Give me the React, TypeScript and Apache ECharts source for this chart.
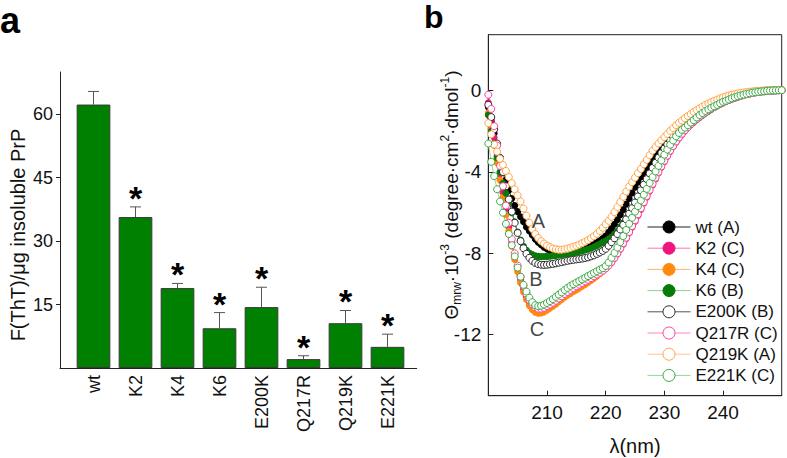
import React, { useEffect, useRef } from "react";
import * as echarts from "echarts";

const FONT = "'Liberation Sans', Arial, Helvetica, sans-serif";

// ---------- Panel a data ----------
const categories = ["wt", "K2", "K4", "K6", "E200K", "Q217R", "Q219K", "E221K"];
const thtMeans = [62.3, 35.7, 18.9, 9.4, 14.4, 2.1, 10.6, 5.0];
const thtErrors = [3.1, 2.4, 1.1, 3.7, 4.7, 0.8, 3.0, 3.0];
const significant = [0, 1, 1, 1, 1, 1, 1, 1];
const yTicksA = [15, 30, 45, 60];

// ---------- Panel b data ----------
const wavelengths = [
  200, 200.5, 201, 201.5, 202, 202.5, 203, 203.5, 204, 204.5,
  205, 205.5, 206, 206.5, 207, 207.5, 208, 208.5, 209, 209.5,
  210, 210.5, 211, 211.5, 212, 212.5, 213, 213.5, 214, 214.5,
  215, 215.5, 216, 216.5, 217, 217.5, 218, 218.5, 219, 219.5,
  220, 220.5, 221, 221.5, 222, 222.5, 223, 223.5, 224, 224.5,
  225, 225.5, 226, 226.5, 227, 227.5, 228, 228.5, 229, 229.5,
  230, 230.5, 231, 231.5, 232, 232.5, 233, 233.5, 234, 234.5,
  235, 235.5, 236, 236.5, 237, 237.5, 238, 238.5, 239, 239.5,
  240, 240.5, 241, 241.5, 242, 242.5, 243, 243.5, 244, 244.5,
  245, 245.5, 246, 246.5, 247, 247.5, 248, 248.5, 249, 249.5,
  250,
];

const wtCD = [
  -0.8, -1.5, -2.1, -2.7, -3.3, -3.85, -4.4, -4.9, -5.3, -5.65,
  -5.95, -6.2, -6.45, -6.7, -6.9, -7.1, -7.3, -7.45, -7.58, -7.7,
  -7.78, -7.85, -7.9, -7.92, -7.94, -7.94, -7.93, -7.91, -7.88, -7.85,
  -7.82, -7.78, -7.74, -7.7, -7.65, -7.6, -7.54, -7.46, -7.38, -7.27,
  -7.15, -6.97, -6.78, -6.57, -6.35, -6.1, -5.85, -5.58, -5.3, -5.03,
  -4.75, -4.5, -4.25, -4.02, -3.8, -3.6, -3.4, -3.19, -2.98, -2.79,
  -2.6, -2.43, -2.27, -2.11, -1.96, -1.83, -1.7, -1.58, -1.46, -1.35,
  -1.24, -1.14, -1.04, -0.95, -0.86, -0.78, -0.7, -0.63, -0.56, -0.5,
  -0.44, -0.39, -0.34, -0.29, -0.25, -0.21, -0.18, -0.15, -0.12, -0.09,
  -0.07, -0.05, -0.04, -0.02, -0.01, 0, 0.01, 0.01, 0.02, 0.02,
  0.02,
];

const k2CD = [
  -0.6, -1.4, -2.3, -3.2, -4.1, -5.0, -5.9, -6.7, -7.45, -8.15,
  -8.75, -9.3, -9.75, -10.12, -10.42, -10.62, -10.75, -10.8, -10.8, -10.76,
  -10.7, -10.62, -10.53, -10.43, -10.32, -10.21, -10.1, -10.0, -9.9, -9.8,
  -9.7, -9.61, -9.52, -9.43, -9.34, -9.25, -9.16, -9.07, -8.97, -8.87,
  -8.76, -8.62, -8.45, -8.25, -8.03, -7.8, -7.55, -7.28, -7.0, -6.72,
  -6.43, -6.14, -5.84, -5.54, -5.24, -4.94, -4.64, -4.34, -4.05, -3.77,
  -3.5, -3.24, -2.99, -2.76, -2.54, -2.34, -2.15, -1.98, -1.82, -1.67,
  -1.54, -1.41, -1.29, -1.18, -1.08, -0.98, -0.89, -0.81, -0.73, -0.66,
  -0.59, -0.52, -0.46, -0.41, -0.36, -0.31, -0.27, -0.23, -0.19, -0.15,
  -0.12, -0.1, -0.07, -0.05, -0.04, -0.02, -0.01, 0, 0.01, 0.01,
  0.02,
];

const k4CD = [
  -1.1, -1.9, -2.7, -3.55, -4.4, -5.25, -6.1, -6.9, -7.65, -8.3,
  -8.9, -9.45, -9.9, -10.27, -10.57, -10.77, -10.9, -10.95, -10.93, -10.88,
  -10.8, -10.7, -10.6, -10.5, -10.38, -10.27, -10.16, -10.06, -9.97, -9.88,
  -9.8, -9.71, -9.62, -9.53, -9.43, -9.33, -9.23, -9.12, -9.0, -8.88,
  -8.75, -8.6, -8.42, -8.22, -8.0, -7.76, -7.5, -7.23, -6.95, -6.66,
  -6.37, -6.07, -5.77, -5.47, -5.17, -4.87, -4.57, -4.28, -3.99, -3.71,
  -3.44, -3.18, -2.94, -2.71, -2.49, -2.29, -2.11, -1.94, -1.78, -1.64,
  -1.51, -1.38, -1.26, -1.15, -1.05, -0.96, -0.87, -0.79, -0.71, -0.64,
  -0.57, -0.51, -0.45, -0.4, -0.35, -0.3, -0.26, -0.22, -0.18, -0.15,
  -0.12, -0.09, -0.07, -0.05, -0.04, -0.02, -0.01, 0, 0.01, 0.01,
  0.02,
];

const k6CD = [
  -1.2, -2.0, -2.6, -3.3, -4.0, -4.55, -5.05, -5.5, -6.0, -6.45,
  -6.95, -7.35, -7.65, -7.85, -7.98, -8.06, -8.12, -8.15, -8.16, -8.16,
  -8.15, -8.14, -8.12, -8.1, -8.08, -8.06, -8.04, -8.02, -8.0, -7.97,
  -7.94, -7.91, -7.88, -7.84, -7.8, -7.75, -7.69, -7.62, -7.54, -7.46,
  -7.4, -7.3, -7.2, -7.06, -6.9, -6.7, -6.5, -6.28, -6.05, -5.8,
  -5.55, -5.3, -5.05, -4.8, -4.55, -4.3, -4.05, -3.82, -3.6, -3.37,
  -3.15, -2.95, -2.75, -2.57, -2.4, -2.24, -2.08, -1.94, -1.8, -1.67,
  -1.55, -1.43, -1.32, -1.21, -1.1, -1.01, -0.92, -0.83, -0.75, -0.67,
  -0.6, -0.53, -0.47, -0.41, -0.36, -0.31, -0.26, -0.22, -0.18, -0.15,
  -0.12, -0.09, -0.07, -0.05, -0.03, -0.02, -0.01, 0, 0.01, 0.01,
  0.02,
];

const e200kCD = [
  -0.7, -1.3, -1.9, -2.6, -3.3, -4.0, -4.7, -5.35, -5.95, -6.5,
  -7.0, -7.4, -7.75, -8.02, -8.22, -8.37, -8.47, -8.53, -8.56, -8.57,
  -8.56, -8.54, -8.52, -8.49, -8.46, -8.43, -8.4, -8.37, -8.34, -8.32,
  -8.3, -8.28, -8.26, -8.23, -8.2, -8.15, -8.1, -8.03, -7.96, -7.88,
  -7.78, -7.63, -7.45, -7.26, -7.05, -6.83, -6.6, -6.33, -6.05, -5.78,
  -5.5, -5.2, -4.9, -4.62, -4.35, -4.07, -3.8, -3.55, -3.3, -3.07,
  -2.85, -2.65, -2.45, -2.26, -2.08, -1.92, -1.77, -1.63, -1.5, -1.38,
  -1.26, -1.15, -1.05, -0.96, -0.87, -0.79, -0.71, -0.64, -0.57, -0.51,
  -0.45, -0.4, -0.35, -0.3, -0.26, -0.22, -0.18, -0.15, -0.12, -0.09,
  -0.07, -0.05, -0.04, -0.02, -0.01, 0, 0, 0.01, 0.01, 0.02,
  0.02,
];

const q217rCD = [
  -0.2, -0.9, -1.75, -2.7, -3.7, -4.7, -5.65, -6.5, -7.3, -8.0,
  -8.6, -9.15, -9.6, -9.98, -10.28, -10.5, -10.65, -10.72, -10.72, -10.68,
  -10.6, -10.52, -10.43, -10.33, -10.22, -10.11, -10.0, -9.9, -9.8, -9.71,
  -9.62, -9.54, -9.46, -9.38, -9.3, -9.22, -9.13, -9.04, -8.95, -8.85,
  -8.74, -8.6, -8.42, -8.22, -8.0, -7.76, -7.5, -7.23, -6.95, -6.66,
  -6.37, -6.08, -5.78, -5.48, -5.18, -4.88, -4.58, -4.28, -4.0, -3.72,
  -3.45, -3.2, -2.95, -2.72, -2.5, -2.3, -2.12, -1.95, -1.8, -1.65,
  -1.52, -1.4, -1.28, -1.17, -1.07, -0.97, -0.88, -0.8, -0.72, -0.65,
  -0.58, -0.52, -0.46, -0.4, -0.35, -0.3, -0.26, -0.22, -0.18, -0.15,
  -0.12, -0.09, -0.07, -0.05, -0.04, -0.02, -0.01, 0, 0.01, 0.01,
  0.02,
];

const q219kCD = [
  -1.6, -2.15, -2.65, -3.0, -3.35, -3.65, -3.95, -4.25, -4.55, -4.85,
  -5.15, -5.45, -5.8, -6.15, -6.5, -6.8, -7.05, -7.25, -7.4, -7.52,
  -7.62, -7.7, -7.76, -7.8, -7.82, -7.82, -7.8, -7.77, -7.73, -7.68,
  -7.63, -7.57, -7.5, -7.43, -7.35, -7.26, -7.16, -7.04, -6.9, -6.74,
  -6.57, -6.4, -6.2, -5.97, -5.72, -5.47, -5.22, -4.96, -4.72, -4.5,
  -4.28, -4.06, -3.85, -3.62, -3.4, -3.17, -2.95, -2.77, -2.6, -2.44,
  -2.28, -2.13, -1.98, -1.84, -1.7, -1.58, -1.47, -1.36, -1.25, -1.15,
  -1.05, -0.96, -0.87, -0.78, -0.7, -0.63, -0.56, -0.5, -0.44, -0.38,
  -0.33, -0.28, -0.24, -0.2, -0.17, -0.14, -0.11, -0.09, -0.07, -0.05,
  -0.04, -0.02, -0.01, 0, 0.01, 0.01, 0.02, 0.02, 0.03, 0.03,
  0.03,
];

const e221kCD = [
  -2.6, -3.5, -4.2, -4.85, -5.45, -6.0, -6.55, -7.05, -7.6, -8.15,
  -8.7, -9.15, -9.55, -9.88, -10.18, -10.4, -10.55, -10.6, -10.58, -10.52,
  -10.44, -10.35, -10.25, -10.14, -10.03, -9.92, -9.8, -9.7, -9.6, -9.52,
  -9.44, -9.36, -9.28, -9.2, -9.12, -9.04, -8.96, -8.88, -8.8, -8.73,
  -8.62, -8.45, -8.22, -7.98, -7.72, -7.45, -7.15, -6.85, -6.55, -6.25,
  -5.95, -5.68, -5.4, -5.12, -4.83, -4.54, -4.25, -3.97, -3.7, -3.43,
  -3.15, -2.9, -2.66, -2.45, -2.25, -2.08, -1.93, -1.82, -1.7, -1.57,
  -1.45, -1.32, -1.2, -1.1, -1.0, -0.92, -0.84, -0.77, -0.7, -0.62,
  -0.55, -0.5, -0.44, -0.38, -0.33, -0.28, -0.24, -0.2, -0.16, -0.13,
  -0.1, -0.08, -0.06, -0.04, -0.03, -0.01, 0, 0.01, 0.01, 0.02,
  0.02,
];

const xTicksB = [210, 220, 230, 240];
const yTicksB = [0, -4, -8, -12];
const curveLabels = [
  { text: "A", at: [208.55, -6.4] },
  { text: "B", at: [208.1, -9.25] },
  { text: "C", at: [208.3, -11.7] },
];

const cdSeries = [
  { name: "wt (A)", values: wtCD, fill: "#000000", stroke: "#000000", line: "#222222" },
  { name: "K2 (C)", values: k2CD, fill: "#f0147e", stroke: "#f0147e", line: "#ff70b5" },
  { name: "K4 (C)", values: k4CD, fill: "#ff8a0d", stroke: "#ff8a0d", line: "#ffb265" },
  { name: "K6 (B)", values: k6CD, fill: "#087a08", stroke: "#087a08", line: "#8fcf8f" },
  { name: "E200K (B)", values: e200kCD, fill: "#ffffff", stroke: "#2a2a2a", line: "#555555" },
  { name: "Q217R (C)", values: q217rCD, fill: "#ffffff", stroke: "#ff3f9f", line: "#ff85c2" },
  { name: "Q219K (A)", values: q219kCD, fill: "#ffffff", stroke: "#ffa445", line: "#ffc68a" },
  { name: "E221K (C)", values: e221kCD, fill: "#ffffff", stroke: "#3aaa44", line: "#95d69a" },
];

export default function App() {
  const ref = useRef<HTMLDivElement>(null);

  useEffect(() => {
    if (!ref.current) return;
    const chart = echarts.init(ref.current, null, { renderer: "svg" });

    const lineSeries = cdSeries.map((s) => ({
      type: "line",
      name: s.name,
      xAxisIndex: 2,
      yAxisIndex: 2,
      data: wavelengths.map((w, i) => [w, s.values[i]]),
      symbol: "circle",
      symbolSize: 7,
      showSymbol: true,
      showAllSymbol: true,
      lineStyle: { width: 1, color: s.line },
      itemStyle: {
        color: s.fill,
        borderColor: s.stroke,
        borderWidth: s.fill === "#ffffff" ? 1 : 0,
      },
      emphasis: { disabled: true },
      z: 2,
    }));

    const option: any = {
      animation: false,
      textStyle: { fontFamily: FONT },
      grid: [
        { left: 72.5, top: 72, width: 336, height: 296 },
        { left: 60, top: 72, width: 356.7, height: 296 },
        {
          left: 488.3,
          top: 34.7,
          width: 293.4,
          height: 361,
          show: true,
          borderColor: "#222",
          borderWidth: 1,
          backgroundColor: "transparent",
        },
      ],
      xAxis: [
        {
          type: "category",
          gridIndex: 0,
          data: categories,
          axisLine: { show: false },
          axisTick: { show: false },
          axisLabel: {
            rotate: 90,
            interval: 0,
            fontSize: 18,
            color: "#111",
            margin: 7,
            fontFamily: FONT,
          },
        },
        {
          type: "value",
          gridIndex: 1,
          min: 0,
          max: 1,
          axisLine: { show: true, onZero: false, lineStyle: { color: "#222", width: 1 } },
          axisTick: { show: false },
          axisLabel: { show: false },
          splitLine: { show: false },
        },
        {
          type: "value",
          gridIndex: 2,
          min: 200,
          max: 250,
          interval: 10,
          axisLine: { show: true, onZero: false, lineStyle: { color: "#222", width: 1 } },
          axisTick: {
            show: true,
            inside: true,
            length: 5,
            customValues: xTicksB,
            lineStyle: { color: "#222" },
          },
          axisLabel: {
            customValues: xTicksB,
            fontSize: 19,
            color: "#111",
            margin: 7,
            fontFamily: FONT,
          },
          splitLine: { show: false },
        },
      ],
      yAxis: [
        {
          type: "value",
          gridIndex: 0,
          min: 0,
          max: 70,
          interval: 15,
          offset: 12.5,
          axisLine: { show: true, lineStyle: { color: "#222", width: 1 } },
          axisTick: {
            show: true,
            length: 4,
            customValues: yTicksA,
            lineStyle: { color: "#222" },
          },
          axisLabel: {
            customValues: yTicksA,
            fontSize: 18,
            color: "#111",
            margin: 7,
            fontFamily: FONT,
          },
          splitLine: { show: false },
        },
        { type: "value", gridIndex: 1, min: 0, max: 1, show: false },
        {
          type: "value",
          gridIndex: 2,
          min: -15,
          max: 2.75,
          axisLine: { show: true, onZero: false, lineStyle: { color: "#222", width: 1 } },
          axisTick: {
            show: true,
            inside: true,
            length: 5,
            customValues: yTicksB,
            lineStyle: { color: "#222" },
          },
          axisLabel: {
            customValues: yTicksB,
            fontSize: 19,
            color: "#111",
            margin: 7,
            fontFamily: FONT,
            formatter: (v: number) => String(v),
          },
          splitLine: { show: false },
        },
      ],
      legend: {
        data: cdSeries.map((s) => s.name),
        orient: "vertical",
        left: 647,
        top: 218.5,
        padding: 0,
        itemWidth: 43,
        itemHeight: 15,
        itemGap: 4.2,
        selectedMode: false,
        lineStyle: { width: 1 },
        itemStyle: { borderWidth: 1 },
        textStyle: { fontSize: 17, color: "#111", fontFamily: FONT, lineHeight: 17 },
      },
      series: [
        {
          type: "bar",
          xAxisIndex: 0,
          yAxisIndex: 0,
          data: thtMeans,
          barWidth: 33.7,
          itemStyle: { color: "#008000", borderColor: "#3a3a3a", borderWidth: 1 },
          emphasis: { disabled: true },
        },
        {
          type: "custom",
          xAxisIndex: 0,
          yAxisIndex: 0,
          data: categories.map((c, i) => [i, thtMeans[i], thtMeans[i] + thtErrors[i], significant[i]]),
          z: 5,
          renderItem: (params: any, api: any) => {
            const idx = api.value(0);
            const base = api.coord([idx, api.value(1)]);
            const top = api.coord([idx, api.value(2)]);
            const cap = 5.5;
            const children: any[] = [
              {
                type: "line",
                shape: { x1: base[0], y1: base[1], x2: top[0], y2: top[1] },
                style: { stroke: "#555", lineWidth: 1 },
              },
              {
                type: "line",
                shape: { x1: top[0] - cap, y1: top[1], x2: top[0] + cap, y2: top[1] },
                style: { stroke: "#555", lineWidth: 1 },
              },
            ];
            if (api.value(3) === 1) {
              children.push({
                type: "text",
                x: top[0],
                y: top[1] - 9,
                style: {
                  text: "*",
                  fontSize: 34,
                  fontWeight: "bold",
                  fontFamily: FONT,
                  fill: "#000",
                  align: "center",
                  verticalAlign: "middle",
                },
              });
            }
            return { type: "group", children };
          },
        },
        ...lineSeries,
        {
          type: "scatter",
          xAxisIndex: 2,
          yAxisIndex: 2,
          symbolSize: 0,
          data: curveLabels.map((c) => ({ value: c.at, name: c.text })),
          label: {
            show: true,
            position: "inside",
            formatter: (p: any) => p.name,
            fontSize: 20,
            color: "#111",
            fontFamily: FONT,
          },
          z: 10,
          emphasis: { disabled: true },
        },
      ],
      graphic: [
        {
          type: "text",
          x: 0,
          y: 20,
          style: {
            text: "a",
            fontSize: 36,
            fontWeight: "bold",
            fontFamily: FONT,
            fill: "#000",
            align: "left",
            verticalAlign: "middle",
          },
        },
        {
          type: "text",
          x: 424,
          y: 17,
          style: {
            text: "b",
            fontSize: 32,
            fontWeight: "bold",
            fontFamily: FONT,
            fill: "#000",
            align: "left",
            verticalAlign: "middle",
          },
        },
        {
          type: "text",
          x: 18,
          y: 235,
          rotation: Math.PI / 2,
          style: {
            text: "F(ThT)/\u03bcg insoluble PrP",
            fontSize: 20,
            fontFamily: FONT,
            fill: "#111",
            align: "center",
            verticalAlign: "middle",
          },
        },
        {
          type: "text",
          x: 451,
          y: 195,
          rotation: Math.PI / 2,
          style: {
            text: "{b|\u0398}{s|mrw}{b|\u00b710}{p|-3}{b| (degree\u00b7cm}{p|2}{b|\u00b7dmol}{p|-1}{b|)}",
            align: "center",
            verticalAlign: "middle",
            fontFamily: FONT,
            rich: {
              b: { fontSize: 19, lineHeight: 24, fontFamily: FONT, fill: "#111" },
              s: { fontSize: 12, lineHeight: 24, fontFamily: FONT, fill: "#111", verticalAlign: "bottom" },
              p: { fontSize: 12, lineHeight: 24, fontFamily: FONT, fill: "#111", verticalAlign: "top" },
            },
          },
        },
        {
          type: "text",
          x: 635,
          y: 446,
          style: {
            text: "\u03bb(nm)",
            fontSize: 20,
            fontFamily: FONT,
            fill: "#111",
            align: "center",
            verticalAlign: "middle",
          },
        },
      ],
    };

    chart.setOption(option);
    return () => {
      chart.dispose();
    };
  }, []);

  return (
    <div
      ref={ref}
      style={{ position: "absolute", left: 0, top: 0, width: 787, height: 458 }}
    />
  );
}
